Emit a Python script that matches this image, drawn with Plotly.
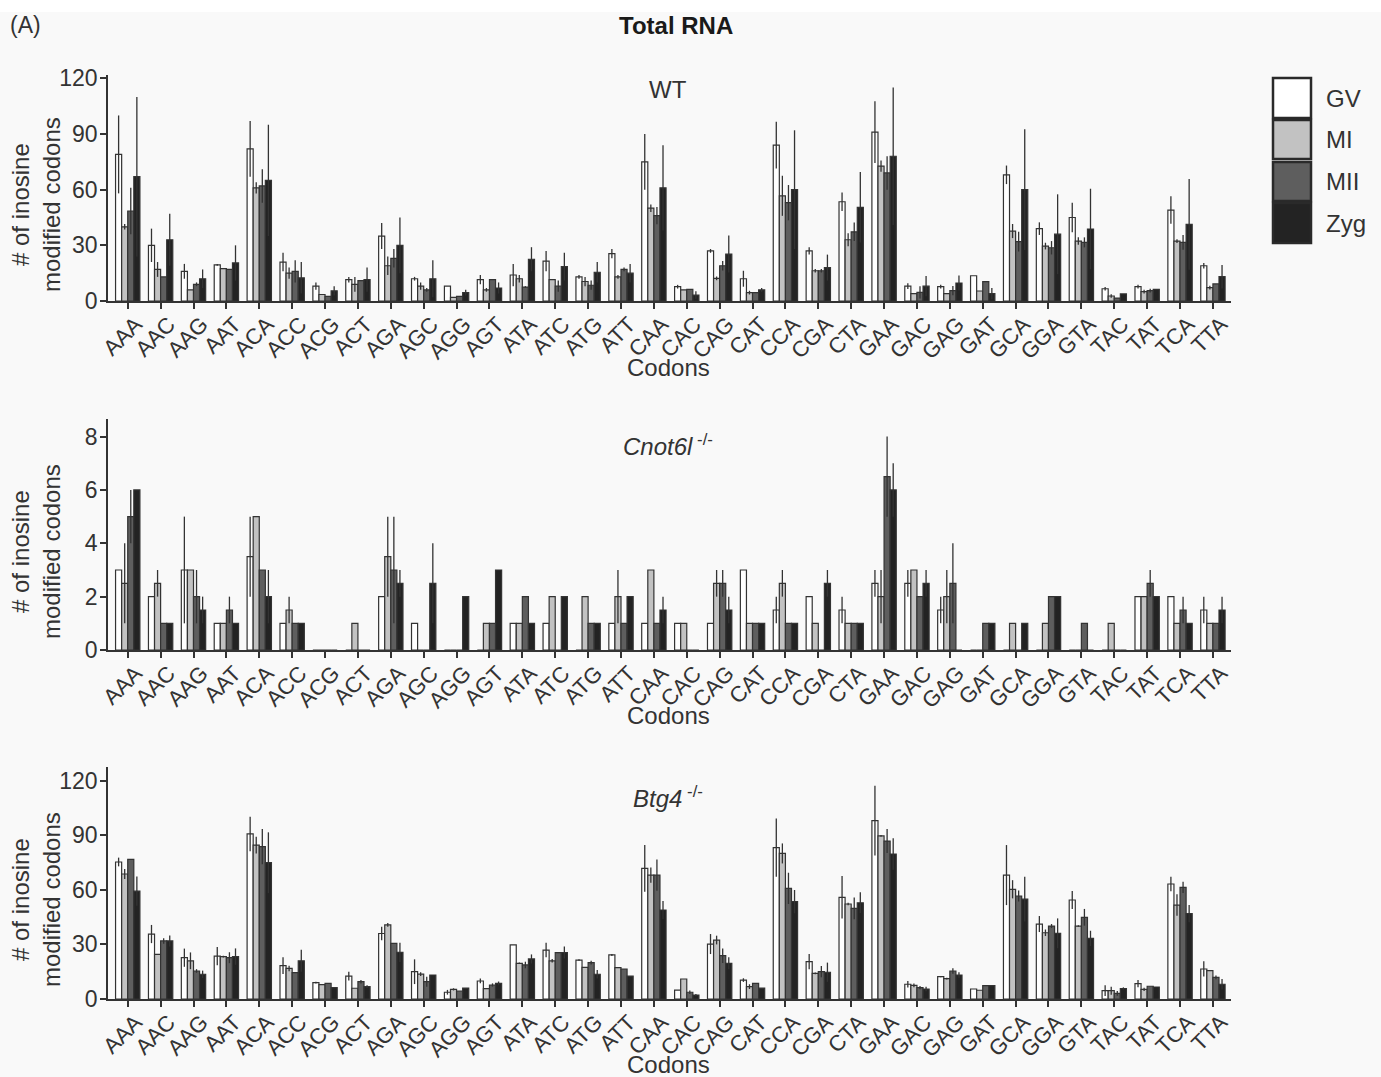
import plotly.graph_objects as go

W, H = 1381, 1077

codons = ["AAA","AAC","AAG","AAT","ACA","ACC","ACG","ACT","AGA","AGC","AGG","AGT",
          "ATA","ATC","ATG","ATT","CAA","CAC","CAG","CAT","CCA","CGA","CTA","GAA",
          "GAC","GAG","GAT","GCA","GGA","GTA","TAC","TAT","TCA","TTA"]
stages = ["GV", "MI", "MII", "Zyg"]
stage_colors = ["#ffffff", "#c2c2c2", "#5e5e5e", "#232323"]

# ---------------- WT ----------------
wt_gv = [79, 30, 16, 19.5, 82, 21, 8, 11.5, 35, 12, 8, 11.5, 14, 21.5, 13, 25.5,
         75, 7.7, 27, 12, 84, 27, 53.5, 91, 8, 7.7, 13.6, 68, 39, 45, 6.6, 7.7, 49, 19]
wt_gv_err = [21, 9, 4, 0.5, 15, 5, 2, 1.5, 7, 1, 0, 2.5, 6, 5.5, 1, 2.5,
             15, 1, 1, 4.3, 12.6, 2, 5, 16.6, 1.5, 1, 0, 5, 3.4, 8, 1, 1, 7.4, 1.5]
wt_mi = [40, 17, 6, 17.5, 61, 15, 3.5, 9, 19, 8, 2, 6, 12, 11.5, 10.5, 13,
         50, 6, 12.2, 4.5, 56.7, 16.3, 33, 72.7, 4, 4, 5.4, 37.7, 29.6, 32.3, 2.7, 5, 32.3, 7.2]
wt_mi_err = [1.5, 4, 0, 0, 3, 3, 0, 4, 5, 2, 0, 1, 2, 0, 2.5, 1,
             2, 0, 1, 1, 10.8, 1, 3.5, 3, 0, 0, 0, 3.8, 1.8, 2, 1, 1, 1, 1]
wt_mii = [48.5, 13, 9, 17, 62, 16, 2.5, 11, 23, 6, 2.5, 11.5, 7.5, 8, 8.5, 17,
          46, 6.3, 19, 4.5, 53, 16.3, 37.3, 69, 4.7, 5.6, 10.4, 32, 28.7, 31.6, 1.6, 5.6, 31.6, 9.2]
wt_mii_err = [12.5, 0, 1, 0, 9, 6, 0, 0, 5, 1, 0, 0, 0.5, 3, 2.5, 1,
              4.6, 0, 2.5, 0, 9.5, 1, 5, 9, 3.3, 2.5, 0, 5.3, 3.6, 2.7, 0, 1, 4, 0]
wt_zyg = [67, 33, 12, 20.5, 65, 12.5, 5.5, 11.5, 30, 12, 4.5, 7, 22.5, 18.5, 15.5, 15,
          61, 3.2, 25.3, 6, 60, 18, 50.5, 78, 8, 9.7, 4, 60, 36, 38.8, 3.8, 6.3, 41.3, 13.1]
wt_zyg_err = [43, 14, 5, 9.5, 30, 8.5, 2.5, 6.5, 15, 10, 1.5, 3, 6.5, 7.5, 5.5, 5,
              23, 2, 10, 1, 32, 7, 19, 37, 5.5, 4, 3, 32.5, 21.5, 21.7, 0, 0, 24.4, 6.3]

# ---------------- Cnot6l -/- ----------------
cn_gv = [3, 2, 3, 1, 3.5, 1, 0, 0, 2, 1, 0, 0, 1, 1, 0, 1,
         1, 1, 1, 3, 1.5, 2, 1.5, 2.5, 2.5, 1.5, 0, 0, 0, 0, 0, 2, 2, 1.5]
cn_gv_err = [0, 0, 2, 0, 1.5, 0, 0, 0, 0, 0, 0, 0, 0, 0, 0, 0,
             0, 0, 0, 0, 0.5, 0, 0.5, 0.5, 0.5, 0.5, 0, 0, 0, 0, 0, 0, 0, 0.5]
cn_mi = [2.5, 2.5, 3, 1, 5, 1.5, 0, 1, 3.5, 0, 0, 1, 1, 2, 2, 2,
         3, 1, 2.5, 1, 2.5, 1, 1, 2, 3, 2, 0, 1, 1, 0, 1, 2, 1, 1]
cn_mi_err = [1.5, 0.5, 0, 0, 0, 0.5, 0, 0, 1.5, 0, 0, 0, 0, 0, 0, 1,
             0, 0, 0.5, 0, 0.5, 0, 0, 1, 0, 1, 0, 0, 0, 0, 0, 0, 0, 0]
cn_mii = [5, 1, 2, 1.5, 3, 1, 0, 0, 3, 0, 0, 1, 2, 0, 1, 1,
          1, 0, 2.5, 1, 1, 0, 1, 6.5, 2, 2.5, 1, 0, 2, 1, 0, 2.5, 1.5, 1]
cn_mii_err = [1, 0, 1, 0.5, 0, 0, 0, 0, 2, 0, 0, 0, 0, 0, 0, 0,
              0, 0, 0.5, 0, 0, 0, 0, 1.5, 0, 1.5, 0, 0, 0, 0, 0, 0.5, 0.5, 0]
cn_zyg = [6, 1, 1.5, 1, 2, 1, 0, 0, 2.5, 2.5, 2, 3, 1, 2, 1, 2,
          1.5, 0, 1.5, 1, 1, 2.5, 1, 6, 2.5, 0, 1, 1, 2, 0, 0, 2, 1, 1.5]
cn_zyg_err = [0, 0, 0.5, 0, 1, 0, 0, 0, 0.5, 1.5, 0, 0, 0, 0, 0, 0,
              0.5, 0, 0.5, 0, 0, 0.5, 0, 1, 0.5, 0, 0, 0, 0, 0, 0, 0, 0, 0.5]

# ---------------- Btg4 -/- ----------------
bt_gv = [75.3, 35.7, 22.7, 23.6, 90.7, 18.3, 9, 12.6, 36, 15, 3.7, 9.9, 29.7, 26.9, 21.4, 24.2,
         71.8, 4.9, 30.2, 10.4, 83.2, 20.5, 55.9, 98, 8.1, 12.3, 5.5, 68.1, 41.2, 54.4, 4.6, 8.4, 63.2, 16.5]
bt_gv_err = [2.4, 5, 5, 5, 9.5, 4.6, 0.5, 2.4, 3.7, 6.8, 1.3, 1.3, 0, 4, 0.4, 0.5,
             12.8, 0, 5.5, 1, 16, 4.2, 11.7, 19.2, 1.8, 0.4, 0, 16.5, 4.4, 5, 3, 2, 4, 4.2]
bt_mi = [68.7, 24.5, 21, 23.3, 84.6, 16.8, 7.9, 5.9, 40.7, 13.7, 5.3, 5.7, 19.6, 21, 17.4, 17.2,
         68.1, 11, 32.4, 6.8, 80, 14.1, 52.2, 89.6, 7.5, 11.2, 4.8, 60.3, 36.4, 40.1, 4.6, 5.3, 51.6, 15.6]
bt_mi_err = [2.7, 0, 4.6, 0.5, 4.6, 1.5, 0, 0, 1, 1, 0.6, 0, 0.4, 1, 0, 0,
             4.2, 0, 2.4, 1.3, 5.5, 0.5, 0.7, 0.5, 1, 0.5, 0, 5, 1.8, 0.4, 2.2, 0.9, 5.9, 0]
bt_mii = [76.7, 31.9, 15.4, 22.7, 83.7, 14.5, 8.6, 9.5, 30.6, 9.5, 4.4, 7.7, 18.7, 25.5, 20, 16.5,
          68.1, 3.7, 23.8, 8.6, 60.8, 15, 49.8, 86.8, 6.2, 15.4, 7.3, 56.6, 40.1, 44.9, 3.1, 7, 61.4, 11.9]
bt_mii_err = [0, 1.5, 1, 3, 9.7, 0, 0, 1, 0, 2.7, 0, 0.9, 1.8, 0, 1, 0,
              8.6, 1, 4, 0, 8.6, 3.1, 6, 6.6, 0.9, 1.5, 0, 3, 1.1, 4.6, 1.3, 0, 3.1, 1]
bt_zyg = [59.3, 31.9, 13.6, 23.3, 74.9, 21, 6.2, 6.8, 25.6, 13.2, 6, 8.6, 22, 25.5, 13.6, 12.6,
          48.9, 2.2, 19.6, 6, 53.5, 14.7, 52.9, 79.7, 5.5, 13.2, 7.3, 54.9, 36.1, 33.3, 5.7, 6.6, 46.9, 8.1]
bt_zyg_err = [8, 3, 2, 4.5, 16.7, 6, 0, 0.8, 5.3, 0, 0, 1, 2.5, 3.3, 2.4, 0,
              5, 0.5, 3.3, 0, 6.4, 5.3, 5.7, 8.6, 1.3, 1.5, 0, 12.3, 8.2, 4.2, 0.7, 0, 4.7, 2.9]

panel_titles = ["WT", "<i>Cnot6l</i><sup> -/-</sup>", "<i>Btg4</i><sup> -/-</sup>"]
y_ticks = [[0, 30, 60, 90, 120], [0, 2, 4, 6, 8], [0, 30, 60, 90, 120]]
y_ranges = [[0, 121.8], [0, 8.66], [0, 127.5]]

panels = [
    [(wt_gv, wt_gv_err), (wt_mi, wt_mi_err), (wt_mii, wt_mii_err), (wt_zyg, wt_zyg_err)],
    [(cn_gv, cn_gv_err), (cn_mi, cn_mi_err), (cn_mii, cn_mii_err), (cn_zyg, cn_zyg_err)],
    [(bt_gv, bt_gv_err), (bt_mi, bt_mi_err), (bt_mii, bt_mii_err), (bt_zyg, bt_zyg_err)],
]

# layout geometry in pixels
FONT = "Liberation Sans, Arial, sans-serif"
TXT = "#333333"
x_px = (108, 1231)
y_px = [(75, 301), (419, 650), (767, 999)]


def px(xp):
    return xp / W


def py(yp):
    return 1 - yp / H


fig = go.Figure()
for p, series in enumerate(panels):
    xa = "x" if p == 0 else f"x{p+1}"
    ya = "y" if p == 0 else f"y{p+1}"
    for s, (vals, errs) in enumerate(series):
        fig.add_trace(go.Bar(
            x=codons, y=vals, name=stages[s], xaxis=xa, yaxis=ya,
            marker=dict(color=stage_colors[s], line=dict(color="#333333", width=1.2)),
            error_y=dict(type="data", array=errs, visible=True, thickness=1.3,
                         width=0, color="#333333"),
            showlegend=False,
        ))

layout = dict(
    width=W, height=H,
    margin=dict(l=0, r=0, t=0, b=0),
    paper_bgcolor="#f9f9f9", plot_bgcolor="#f9f9f9",
    barmode="group", bargap=0.26, bargroupgap=0.0,
    font=dict(family=FONT, color=TXT, size=22),
    showlegend=False,
)
for p in range(3):
    xk = "xaxis" if p == 0 else f"xaxis{p+1}"
    yk = "yaxis" if p == 0 else f"yaxis{p+1}"
    ya = "y" if p == 0 else f"y{p+1}"
    xa = "x" if p == 0 else f"x{p+1}"
    layout[xk] = dict(
        domain=[px(x_px[0]), px(x_px[1])], anchor=ya,
        type="category", range=[-0.6, 33.55],
        showline=True, linecolor="#333333", linewidth=1.6,
        ticks="outside", ticklen=6, tickwidth=1.5, tickcolor="#333333",
        tickangle=-45, tickfont=dict(size=22, color=TXT, family=FONT),
        ticklabelstandoff=-6, ticklabelshift=8,
        showgrid=False, zeroline=False, automargin=False,
    )
    layout[yk] = dict(
        domain=[py(y_px[p][1]), py(y_px[p][0])], anchor=xa,
        range=y_ranges[p], tickvals=y_ticks[p],
        showline=True, linecolor="#333333", linewidth=1.6,
        ticks="outside", ticklen=6, tickwidth=1.5, tickcolor="#333333",
        tickfont=dict(size=23, color=TXT, family=FONT),
        ticklabelstandoff=-2,
        showgrid=False, zeroline=False, automargin=False,
    )
fig.update_layout(**layout)

ann = []
ann.append(dict(text="(A)", x=px(8), y=py(25), xref="paper", yref="paper",
                xanchor="left", yanchor="middle", showarrow=False,
                font=dict(size=23, color=TXT, family=FONT)))
ann.append(dict(text="<b>Total RNA</b>", x=px(676), y=py(25), xref="paper", yref="paper",
                xanchor="center", yanchor="middle", showarrow=False,
                font=dict(size=24, color="#1a1a1a", family=FONT)))
title_y = [89, 445, 797]
codon_y = [367, 715, 1064]
ylab_y = [205, 552, 900]
for p in range(3):
    ann.append(dict(text=panel_titles[p], x=px(668), y=py(title_y[p]), xref="paper", yref="paper",
                    xanchor="center", yanchor="middle", showarrow=False,
                    font=dict(size=24, color=TXT, family=FONT)))
    ann.append(dict(text="Codons", x=px(668), y=py(codon_y[p]), xref="paper", yref="paper",
                    xanchor="center", yanchor="middle", showarrow=False,
                    font=dict(size=24, color=TXT, family=FONT)))
    ann.append(dict(text="# of inosine<br>modified codons", x=px(36), y=py(ylab_y[p]),
                    xref="paper", yref="paper", xanchor="center", yanchor="middle",
                    textangle=-90, showarrow=False,
                    font=dict(size=24, color=TXT, family=FONT)))

# legend drawn as boxes + labels
shapes = [dict(type="rect", xref="paper", yref="paper", x0=0, x1=1, y0=py(12), y1=1,
               fillcolor="#ffffff", line=dict(width=0), layer="below")]
leg_top = [78, 120, 162, 203]
leg_bot = [118, 159, 201, 243]
for s in range(4):
    shapes.append(dict(type="rect", xref="paper", yref="paper",
                       x0=px(1273), x1=px(1311), y0=py(leg_bot[s]), y1=py(leg_top[s]),
                       fillcolor=stage_colors[s], line=dict(color="#2a2a2a", width=2.5)))
    ann.append(dict(text=stages[s], x=px(1324), y=py((leg_top[s] + leg_bot[s]) / 2),
                    xref="paper", yref="paper", xanchor="left", yanchor="middle",
                    showarrow=False, font=dict(size=24, color=TXT, family=FONT)))

fig.update_layout(annotations=ann, shapes=shapes)
fig.write_html("out.html", config={"displayModeBar": False},
               post_script="document.body.style.margin='0';document.body.style.overflow='hidden';")
